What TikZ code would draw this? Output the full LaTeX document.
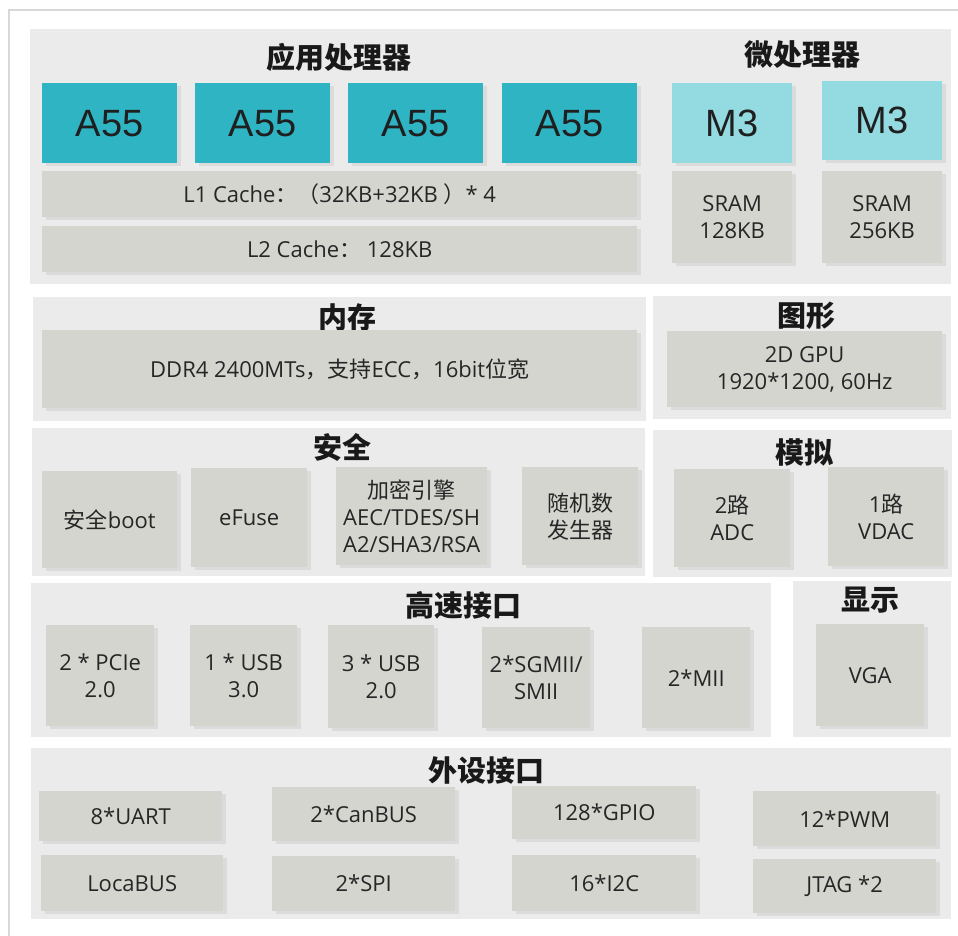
\documentclass[tikz,border=0pt]{standalone}
\usepackage{fontspec}
\setmainfont{Open Sans}
\newfontfamily\cjk{Noto Sans CJK SC}
\newfontfamily\arialfont{Liberation Sans}
\usetikzlibrary{shadows}

\definecolor{panelgray}{HTML}{EBEBEB}
\definecolor{boxgray}{HTML}{D5D5D0}
\definecolor{coreteal}{HTML}{2FB4C4}
\definecolor{mcucyan}{HTML}{93DAE1}
\definecolor{framegray}{HTML}{D8D8D8}
\definecolor{txtgray}{HTML}{262626}

\tikzset{
  panel/.style={fill=panelgray, anchor=north west, inner sep=0pt},
  box/.style={fill=boxgray, anchor=north west, inner sep=0pt, align=center,
    text=txtgray, font=\fontsize{22}{27}\selectfont,
    drop shadow={shadow xshift=4pt, shadow yshift=-3pt, opacity=.15}},
  core/.style={box, fill=coreteal, text=black!88, font=\arialfont\fontsize{38}{40}\selectfont},
  mcu/.style={core, fill=mcucyan},
  title/.style={font=\cjk\bfseries\fontsize{29}{32}\selectfont, text=black!90},
}

\begin{document}
\begin{tikzpicture}[x=1pt, y=-1pt]
    \useasboundingbox (0,0) rectangle (958,936);
    \fill[white] (0,0) rectangle (958,936);
    \draw[framegray, line width=2.5pt] (958,10) -- (9,10) -- (9,936);

    \node[panel, minimum width=921pt, minimum height=255pt] (proc) at (30,29) {};
    \node[title] (apTitle) at (339,57) {应用处理器};
    \node[title] (mcuTitle) at (802,55) {微处理器};
    \node[core, minimum width=135pt, minimum height=80pt] (a1) at (42,83) {A55};
    \node[core, minimum width=135pt, minimum height=80pt] (a2) at (195,83) {A55};
    \node[core, minimum width=135pt, minimum height=80pt] (a3) at (348,83) {A55};
    \node[core, minimum width=135pt, minimum height=80pt] (a4) at (502,83) {A55};
    \node[mcu, minimum width=120pt, minimum height=80pt] (m1) at (672,83) {M3};
    \node[mcu, minimum width=120pt, minimum height=79pt] (m2) at (822,81) {M3};
    \node[box, minimum width=595pt, minimum height=46pt] (l1) at (42,171) {L1 Cache{\cjk ：（}32KB+32KB {\cjk ）}* 4};
    \node[box, minimum width=595pt, minimum height=46pt] (l2) at (42,226) {L2 Cache{\cjk ：}\ 128KB};
    \node[box, minimum width=120pt, minimum height=92pt] (sram1) at (672,171) {SRAM\\128KB};
    \node[box, minimum width=120pt, minimum height=92pt] (sram2) at (822,171) {SRAM\\256KB};

    \node[panel, minimum width=613pt, minimum height=124pt] (mem) at (33,297) {};
    \node[title] (memTitle) at (347,317) {内存};
    \node[box, minimum width=595pt, minimum height=78pt] (ddr) at (42,330) {DDR4 2400MTs{\cjk ，支持}ECC{\cjk ，}16bit{\cjk 位宽}};

    \node[panel, minimum width=298pt, minimum height=123pt] (gfx) at (653,296) {};
    \node[title] (gfxTitle) at (806,316) {图形};
    \node[box, minimum width=275pt, minimum height=76pt] (gpu) at (667,331) {2D GPU\\1920*1200, 60Hz};

    \node[panel, minimum width=613pt, minimum height=148pt] (sec) at (32,428) {};
    \node[title] (secTitle) at (342,447) {安全};
    \node[box, minimum width=135pt, minimum height=97pt] (sboot) at (42,471) {{\cjk 安全}boot};
    \node[box, minimum width=116pt, minimum height=99pt] (efuse) at (191,468) {eFuse};
    \node[box, minimum width=151pt, minimum height=98pt] (crypto) at (336,467) {{\cjk 加密引擎}\\AEC/TDES/SH\\A2/SHA3/RSA};
    \node[box, minimum width=116pt, minimum height=98pt, font=\cjk\fontsize{22}{27}\selectfont] (rng) at (522,467) {随机数\\发生器};

    \node[panel, minimum width=299pt, minimum height=147pt] (ana) at (653,430) {};
    \node[title] (anaTitle) at (804,452) {模拟};
    \node[box, minimum width=116pt, minimum height=98pt] (adc) at (674,469) {2{\cjk 路}\\ADC};
    \node[box, minimum width=116pt, minimum height=99pt] (vdac) at (828,467) {1{\cjk 路}\\VDAC};

    \node[panel, minimum width=740pt, minimum height=154pt] (hs) at (31,583) {};
    \node[title] (hsTitle) at (463,605) {高速接口};
    \node[box, minimum width=108pt, minimum height=101pt] (pcie) at (46,625) {2 * PCIe\\2.0};
    \node[box, minimum width=107pt, minimum height=101pt] (usbA) at (190,625) {1 * USB\\3.0};
    \node[box, minimum width=106pt, minimum height=103pt] (usbB) at (328,625) {3 * USB\\2.0};
    \node[box, minimum width=108pt, minimum height=101pt] (sgmii) at (482,627) {2*SGMII/\\SMII};
    \node[box, minimum width=108pt, minimum height=101pt] (mii) at (642,627) {2*MII};

    \node[panel, minimum width=158pt, minimum height=156pt] (disp) at (793,581) {};
    \node[title] (dispTitle) at (870,600) {显示};
    \node[box, minimum width=108pt, minimum height=102pt] (vga) at (816,624) {VGA};

    \node[panel, minimum width=920pt, minimum height=171pt] (per) at (31,748) {};
    \node[title] (perTitle) at (486,770) {外设接口};
    \node[box, minimum width=183pt, minimum height=50pt] (uart) at (39,791) {8*UART};
    \node[box, minimum width=182pt, minimum height=56pt] (lbus) at (41,855) {LocaBUS};
    \node[box, minimum width=183pt, minimum height=54pt] (can) at (272,787) {2*CanBUS};
    \node[box, minimum width=183pt, minimum height=55pt] (spi) at (272,856) {2*SPI};
    \node[box, minimum width=184pt, minimum height=53pt] (gpio) at (512,786) {128*GPIO};
    \node[box, minimum width=184pt, minimum height=56pt] (iic) at (512,855) {16*I2C};
    \node[box, minimum width=183pt, minimum height=55pt] (pwm) at (753,791) {12*PWM};
    \node[box, minimum width=183pt, minimum height=54pt] (jtag) at (753,859) {JTAG *2};
\end{tikzpicture}
\end{document}
